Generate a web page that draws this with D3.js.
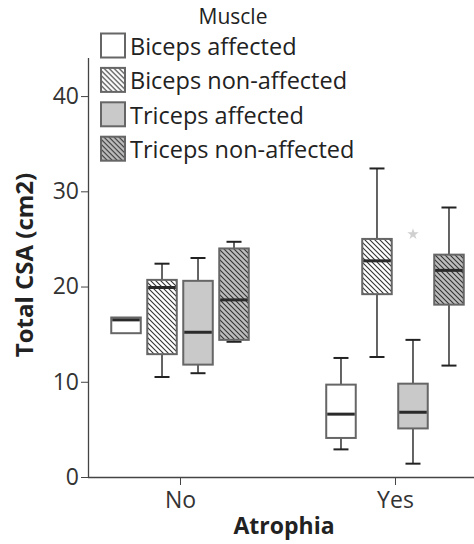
<!DOCTYPE html>
<html>
<head>
<meta charset="utf-8">
<script src="https://cdn.jsdelivr.net/npm/d3@7"></script>
<style>
  html, body { margin: 0; padding: 0; background: #fff; }
  svg { display: block; font-family: 'Open Sans', sans-serif; }
</style>
</head>
<body>
<script>
const width = 474;
const height = 544;

const groups = ['No', 'Yes'];
const muscles = ['Biceps affected', 'Biceps non-affected', 'Triceps affected', 'Triceps non-affected'];
// per muscle: [min, q1, median, q3, max]
const noStats = [
  [15.1, 15.1, 16.5, 16.75, 16.75],
  [10.5, 12.9, 19.9, 20.7, 22.4],
  [10.9, 11.8, 15.2, 20.6, 23.0],
  [14.2, 14.4, 18.6, 24.0, 24.7]
];
const yesStats = [
  [2.9, 4.1, 6.6, 9.7, 12.5],
  [12.6, 19.2, 22.7, 25.0, 32.4],
  [1.4, 5.1, 6.8, 9.8, 14.4],
  [11.7, 18.1, 21.7, 23.35, 28.3]
];
const outlierGroups = ['Yes'];
const outlierMuscles = ['Triceps affected'];
const outlierValues = [25.5];
const yTicks = [0, 10, 20, 30, 40];

const margin = { left: 88, bottom: 477, top: 58 };

function main() {
  const svg = d3.select('body').append('svg').attr('width', width).attr('height', height);
  addPatterns(svg);

  const y = d3.scaleLinear().domain([0, 44]).range([margin.bottom, margin.top]);
  const x = d3.scalePoint().domain(groups).range([margin.left, 487]).padding(0.428);
  const sub = d3.scaleBand().domain(muscles).range([-72, 72]).paddingInner(0.18).paddingOuter(0.09);

  const fills = {
    'Biceps affected': '#ffffff',
    'Biceps non-affected': 'url(#hatchLight)',
    'Triceps affected': '#c9c9c9',
    'Triceps non-affected': 'url(#hatchDark)'
  };

  const boxes = [];
  groups.forEach((g, gi) => {
    const stats = gi === 0 ? noStats : yesStats;
    muscles.forEach((m, mi) => {
      const [min, q1, med, q3, max] = stats[mi];
      boxes.push({ g, m, min, q1, med, q3, max });
    });
  });

  // axes
  const yAxis = svg.append('g')
    .attr('transform', `translate(${margin.left},0)`)
    .call(d3.axisLeft(y).tickValues(yTicks).tickSize(7).tickSizeOuter(0).tickPadding(2));
  yAxis.select('.domain').attr('stroke', '#444').attr('stroke-width', 1.3)
    .attr('d', `M0.5,${margin.top}V${margin.bottom}`);
  yAxis.selectAll('.tick line').attr('stroke', '#444');
  yAxis.selectAll('.tick text').attr('font-size', 23).attr('fill', '#333')
    .attr('font-family', 'Open Sans, sans-serif');

  const xAxis = svg.append('g')
    .attr('transform', `translate(0,${margin.bottom})`)
    .call(d3.axisBottom(x).tickSize(8).tickSizeOuter(0).tickPadding(7));
  xAxis.select('.domain').attr('stroke', '#444').attr('stroke-width', 1.3)
    .attr('d', `M${margin.left},0.5H${width}`);
  xAxis.selectAll('.tick line').attr('stroke', '#444');
  xAxis.selectAll('.tick text').attr('font-size', 23).attr('fill', '#333')
    .attr('font-family', 'Open Sans, sans-serif');

  // boxes
  const cx = d => x(d.g) + sub(d.m) + sub.bandwidth() / 2;
  const bw = sub.bandwidth();
  const cap = 15;

  const items = svg.append('g').selectAll('g').data(boxes).enter().append('g');

  items.filter(d => d.max > d.q3).append('line')
    .attr('x1', cx).attr('x2', cx).attr('y1', d => y(d.max)).attr('y2', d => y(d.q3))
    .attr('stroke', '#222').attr('stroke-width', 1.4);
  items.filter(d => d.max > d.q3).append('line')
    .attr('x1', d => cx(d) - cap / 2).attr('x2', d => cx(d) + cap / 2)
    .attr('y1', d => y(d.max)).attr('y2', d => y(d.max))
    .attr('stroke', '#222').attr('stroke-width', 2);
  items.filter(d => d.min < d.q1).append('line')
    .attr('x1', cx).attr('x2', cx).attr('y1', d => y(d.min)).attr('y2', d => y(d.q1))
    .attr('stroke', '#222').attr('stroke-width', 1.4);
  items.filter(d => d.min < d.q1).append('line')
    .attr('x1', d => cx(d) - cap / 2).attr('x2', d => cx(d) + cap / 2)
    .attr('y1', d => y(d.min)).attr('y2', d => y(d.min))
    .attr('stroke', '#222').attr('stroke-width', 2);

  items.append('rect')
    .attr('x', d => cx(d) - bw / 2)
    .attr('y', d => y(d.q3))
    .attr('width', bw)
    .attr('height', d => y(d.q1) - y(d.q3))
    .attr('fill', d => fills[d.m])
    .attr('stroke', '#666')
    .attr('stroke-width', 2);

  items.append('line')
    .attr('x1', d => cx(d) - bw / 2 + 1).attr('x2', d => cx(d) + bw / 2 - 1)
    .attr('y1', d => y(d.med)).attr('y2', d => y(d.med))
    .attr('stroke', '#2a2a2a').attr('stroke-width', 3);

  // outliers
  const outliers = outlierValues.map((v, i) => ({ g: outlierGroups[i], m: outlierMuscles[i], v }));
  svg.append('g').selectAll('path').data(outliers).enter().append('path')
    .attr('d', d3.symbol(d3.symbolStar, 40))
    .attr('transform', d => `translate(${x(d.g) + sub(d.m) + bw / 2},${y(d.v)})`)
    .attr('fill', '#d0d0d0');

  // axis titles
  svg.append('text')
    .attr('transform', `translate(33,265) rotate(-90)`)
    .attr('text-anchor', 'middle')
    .attr('font-size', 24).attr('font-weight', 'bold').attr('fill', '#222')
    .text('Total CSA (cm2)');
  svg.append('text')
    .attr('x', 284).attr('y', 534)
    .attr('text-anchor', 'middle')
    .attr('font-size', 23).attr('font-weight', 'bold').attr('fill', '#222')
    .text('Atrophia');

  createLegend(svg, fills);
}

function addPatterns(svg) {
  const defs = svg.append('defs');
  const light = defs.append('pattern').attr('id', 'hatchLight')
    .attr('patternUnits', 'userSpaceOnUse').attr('width', 5).attr('height', 5);
  light.append('rect').attr('width', 5).attr('height', 5).attr('fill', '#fff');
  light.append('path').attr('d', 'M-1,-1L6,6M-1,4L1,6M4,-1L6,1')
    .attr('stroke', '#333').attr('stroke-width', 1.1);

  const dark = defs.append('pattern').attr('id', 'hatchDark')
    .attr('patternUnits', 'userSpaceOnUse').attr('width', 5).attr('height', 5);
  dark.append('rect').attr('width', 5).attr('height', 5).attr('fill', '#bdbdbd');
  dark.append('path').attr('d', 'M-1,-1L6,6M-1,4L1,6M4,-1L6,1')
    .attr('stroke', '#333').attr('stroke-width', 1.1);
}

function createLegend(svg, fills) {
  const legend = svg.append('g');
  legend.append('text')
    .attr('x', 233).attr('y', 23.5)
    .attr('text-anchor', 'middle')
    .attr('font-size', 21).attr('fill', '#222')
    .text('Muscle');

  const rows = legend.selectAll('g').data(muscles).enter().append('g')
    .attr('transform', (_, i) => `translate(0,${55 + i * 34.4})`);
  rows.append('rect')
    .attr('x', 101).attr('y', -21.5)
    .attr('width', 24).attr('height', 24)
    .attr('fill', d => fills[d])
    .attr('stroke', '#666').attr('stroke-width', 2);
  rows.append('text')
    .attr('x', 130).attr('y', 0)
    .attr('font-size', 23.5).attr('fill', '#222')
    .text(d => d);
}

main();
</script>
</body>
</html>
